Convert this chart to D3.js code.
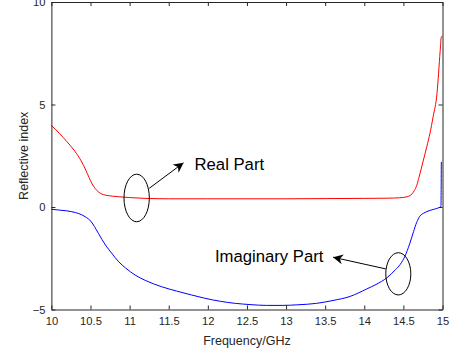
<!DOCTYPE html>
<html>
<head>
<meta charset="utf-8">
<script src="https://cdn.jsdelivr.net/npm/d3@7"></script>
<style>
  body { margin: 0; background: #fff; }
  svg text { font-family: "Liberation Sans", Arial, sans-serif; fill: #262626; }
</style>
</head>
<body>
<div id="chart"></div>
<script>
// Real part of the reflective index (frequency in GHz, value)
const realFreq = [10.0, 10.1, 10.2, 10.3, 10.38, 10.44, 10.48, 10.52, 10.56, 10.6, 10.64, 10.7, 10.78,
    10.86, 11.0, 11.2, 11.5, 12.0, 12.5, 13.0, 13.5, 14.0, 14.3, 14.45, 14.52, 14.57, 14.61, 14.64,
    14.67, 14.7, 14.75, 14.8, 14.84, 14.88, 14.93, 14.97, 14.985, 15.0];
const realValues = [3.98, 3.6, 3.18, 2.72, 2.25, 1.8, 1.45, 1.13, 0.9, 0.74, 0.64, 0.57, 0.53,
    0.5, 0.46, 0.42, 0.4, 0.4, 0.4, 0.4, 0.41, 0.42, 0.43, 0.45, 0.48, 0.53, 0.64, 0.8,
    1.05, 1.45, 2.2, 2.95, 3.6, 4.4, 5.55, 7.6, 8.3, 8.32];

// Imaginary part
const imagFreq = [10.0, 10.1, 10.2, 10.26, 10.35, 10.43, 10.51, 10.55, 10.6, 10.69, 10.77, 10.86, 10.95,
    11.07, 11.2, 11.41, 11.6, 11.79, 11.96, 12.16, 12.35, 12.54, 12.75, 12.96, 13.15, 13.39, 13.6,
    13.82, 14.03, 14.15, 14.29, 14.4, 14.46, 14.52, 14.58, 14.63, 14.67, 14.71, 14.76, 14.8, 14.9,
    14.98, 14.985];
const imagValues = [-0.11, -0.15, -0.19, -0.23, -0.32, -0.47, -0.72, -0.95, -1.28, -1.85, -2.25, -2.67, -2.98,
    -3.32, -3.58, -3.89, -4.1, -4.29, -4.45, -4.6, -4.7, -4.76, -4.8, -4.8, -4.77, -4.7, -4.56,
    -4.36, -4.0, -3.78, -3.45, -3.05, -2.8, -2.4, -1.8, -1.2, -0.75, -0.45, -0.3, -0.22, -0.1,
    0.02, 2.2];

const xTicks = [10, 10.5, 11, 11.5, 12, 12.5, 13, 13.5, 14, 14.5, 15];
const yTicks = [-5, 0, 5, 10];

// Annotations: ellipse centre/radii and arrow, in data units
const notes = [
    { label: 'Real Part', cx: 11.09, cy: 0.44, rx: 0.162, ry: 1.16,
      from: [11.25, 0.91], to: [11.69, 2.16], text: [11.83, 1.8] },
    { label: 'Imaginary Part', cx: 14.435, cy: -3.26, rx: 0.16, ry: 1.03,
      from: [14.275, -3.02], to: [13.6, -2.45], text: [12.09, -2.67] }
];

const width = 454, height = 356;
const plot = { left: 51.4, right: 442.5, top: 2, bottom: 309.5 };

const svg = d3.select('#chart')
    .append('svg')
    .attr('width', width)
    .attr('height', height);

const x = d3.scaleLinear().domain([10, 15]).range([plot.left, plot.right]);
const y = d3.scaleLinear().domain([-5, 10]).range([plot.bottom, plot.top]);

// Curves
const line = d3.line()
    .x(d => x(d[0]))
    .y(d => y(d[1]))
    .curve(d3.curveMonotoneX);

svg.append('path')
    .datum(d3.zip(realFreq, realValues))
    .attr('fill', 'none')
    .attr('stroke', '#ff0000')
    .attr('stroke-width', 1)
    .attr('d', line);

svg.append('path')
    .datum(d3.zip(imagFreq, imagValues))
    .attr('fill', 'none')
    .attr('stroke', '#0000ff')
    .attr('stroke-width', 1)
    .attr('d', line);

// Axes (MATLAB style: ticks inward, box on)
const axisColor = '#262626';

const xAxis = svg.append('g')
    .attr('transform', `translate(0,${plot.bottom})`)
    .call(d3.axisBottom(x).tickValues(xTicks).tickSizeInner(-4).tickSizeOuter(0).tickPadding(8)
        .tickFormat(d3.format('')));

const xTop = svg.append('g')
    .attr('transform', `translate(0,${plot.top})`)
    .call(d3.axisTop(x).tickValues(xTicks).tickSizeInner(-4).tickSizeOuter(0).tickFormat(''));

const yAxis = svg.append('g')
    .attr('transform', `translate(${plot.left},0)`)
    .call(d3.axisLeft(y).tickValues(yTicks).tickSizeInner(-4).tickSizeOuter(0).tickPadding(6));

const yRight = svg.append('g')
    .attr('transform', `translate(${plot.right},0)`)
    .call(d3.axisRight(y).tickValues(yTicks).tickSizeInner(-4).tickSizeOuter(0).tickFormat(''));

[xAxis, xTop, yAxis, yRight].forEach(g => {
    g.select('.domain').attr('stroke', axisColor);
    g.selectAll('.tick line').attr('stroke', axisColor);
    g.selectAll('.tick text')
        .attr('fill', axisColor)
        .style('font-size', '11.2px');
});

// Axis titles
svg.append('text')
    .attr('x', (plot.left + plot.right) / 2)
    .attr('y', 345)
    .attr('text-anchor', 'middle')
    .style('font-size', '12.5px')
    .text('Frequency/GHz');

svg.append('text')
    .attr('transform', `translate(27.5,${(plot.top + plot.bottom) / 2}) rotate(-90)`)
    .attr('text-anchor', 'middle')
    .style('font-size', '12.5px')
    .text('Reflective index');

// Annotation ellipses and arrows
svg.append('defs').append('marker')
    .attr('id', 'head')
    .attr('viewBox', '0 0 10 10')
    .attr('refX', 10)
    .attr('refY', 5)
    .attr('markerWidth', 10)
    .attr('markerHeight', 10)
    .attr('markerUnits', 'userSpaceOnUse')
    .attr('orient', 'auto')
    .append('path')
    .attr('d', 'M0,0 L10,5 L0,10 L3,5 Z')
    .attr('fill', '#000');

const note = svg.selectAll('.note')
    .data(notes)
    .enter()
    .append('g')
    .attr('class', 'note');

note.append('ellipse')
    .attr('cx', d => x(d.cx))
    .attr('cy', d => y(d.cy))
    .attr('rx', d => x(d.cx + d.rx) - x(d.cx))
    .attr('ry', d => y(d.cy) - y(d.cy + d.ry))
    .attr('fill', 'none')
    .attr('stroke', '#000')
    .attr('stroke-width', 1);

note.append('line')
    .attr('x1', d => x(d.from[0]))
    .attr('y1', d => y(d.from[1]))
    .attr('x2', d => x(d.to[0]))
    .attr('y2', d => y(d.to[1]))
    .attr('stroke', '#000')
    .attr('stroke-width', 1)
    .attr('marker-end', 'url(#head)');

note.append('text')
    .attr('x', d => x(d.text[0]))
    .attr('y', d => y(d.text[1]))
    .style('font-size', '16.7px')
    .style('fill', '#000')
    .text(d => d.label);
</script>
</body>
</html>
